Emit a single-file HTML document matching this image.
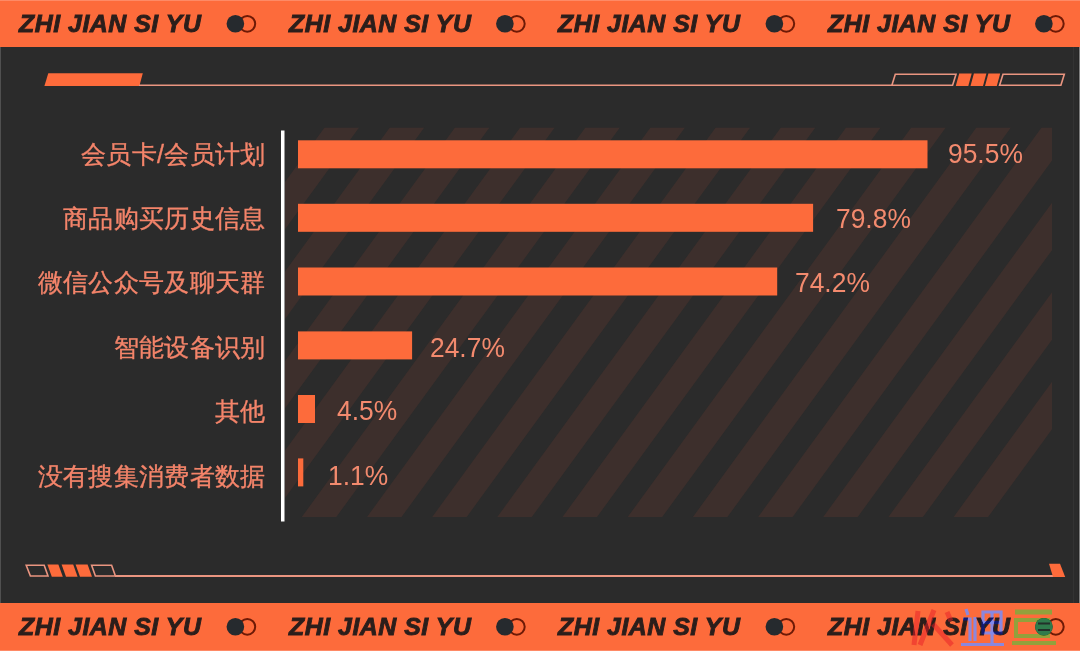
<!DOCTYPE html>
<html><head><meta charset="utf-8">
<style>
html,body{margin:0;padding:0;}
body{width:1080px;height:651px;overflow:hidden;background:#2b2b2b;position:relative;font-family:"Liberation Sans",sans-serif;}
.band{position:absolute;left:0;width:1080px;height:48px;background:#fd6b3b;overflow:hidden;}
.ht{position:absolute;font:italic bold 24px "Liberation Sans",sans-serif;color:#2b1e1b;letter-spacing:0.52px;transform:scaleX(1.035);transform-origin:0 0;-webkit-text-stroke:0.9px #2b1e1b;white-space:nowrap;line-height:1;}
.bl{position:absolute;left:0;width:1080px;height:1px;background:#fe8a66;}
.lbl{position:absolute;right:814.2px;font-size:25px;letter-spacing:0.35px;color:#f4846a;-webkit-text-stroke:0.35px #f4846a;white-space:nowrap;line-height:1;}
.pct{position:absolute;font-size:27.5px;color:#f38a6e;white-space:nowrap;line-height:1;transform:scaleX(0.96);transform-origin:0 0;}
svg{position:absolute;left:0;top:0;}
</style></head><body>
<svg width="1080" height="651" viewBox="0 0 1080 651">
  <defs>
    <clipPath id="cp"><rect x="285" y="127.5" width="767" height="389.5"/></clipPath>
  </defs>
  <path clip-path="url(#cp)" fill="#3d2f2c" d="M41.1 517H75.6L359.1 127.5H324.6ZM106.3 517H140.8L424.3 127.5H389.8ZM171.4 517H205.9L489.5 127.5H455.0ZM236.6 517H271.1L554.7 127.5H520.2ZM301.8 517H336.3L619.9 127.5H585.4ZM367.0 517H401.5L685.0 127.5H650.5ZM432.2 517H466.7L750.2 127.5H715.7ZM497.3 517H531.8L815.4 127.5H780.9ZM562.5 517H597.0L880.6 127.5H846.1ZM627.7 517H662.2L945.8 127.5H911.3ZM692.9 517H727.4L1010.9 127.5H976.4ZM758.1 517H792.6L1076.1 127.5H1041.6ZM823.2 517H857.7L1141.3 127.5H1106.8ZM888.4 517H922.9L1206.5 127.5H1172.0ZM953.6 517H988.1L1271.7 127.5H1237.2Z"/>
  <!-- axis -->
  <rect x="281" y="130.5" width="3.5" height="391" fill="#ffffff"/>
  <!-- bars -->
  <rect x="298" y="140.3" width="629.5" height="28" fill="#fd6b3b"/>
  <rect x="298" y="203.8" width="515.1" height="28" fill="#fd6b3b"/>
  <rect x="298" y="267.5" width="479.2" height="28" fill="#fd6b3b"/>
  <rect x="298" y="331.4" width="114.1" height="28" fill="#fd6b3b"/>
  <rect x="298" y="395" width="17" height="28" fill="#fd6b3b"/>
  <rect x="298" y="458.4" width="5.3" height="28" fill="#fd6b3b"/>
  <!-- top decoration -->
  <polygon points="48.3,73.3 142.8,73.3 139.4,86.1 44.4,86.1" fill="#fd6b3b"/>
  <line x1="139" y1="85.3" x2="892" y2="85.3" stroke="#ea9580" stroke-width="1.6"/>
  <polygon points="895.3,74.3 956,74.3 952.6,85.3 891.9,85.3" fill="none" stroke="#ea9580" stroke-width="1.6"/>
  <polygon points="959.2,73.4 971.7,73.4 968.3,86.1 955.8,86.1" fill="#fd6b3b"/>
  <polygon points="973.9,73.4 986.4,73.4 983,86.1 970.5,86.1" fill="#fd6b3b"/>
  <polygon points="988.4,73.4 1000.2,73.4 996.8,86.1 985,86.1" fill="#fd6b3b"/>
  <polygon points="1003,74.3 1064.3,74.3 1060.9,85.3 999.6,85.3" fill="none" stroke="#ea9580" stroke-width="1.6"/>
  <!-- bottom decoration -->
  <polygon points="26.2,565.2 44.2,565.2 48,576 30.4,576" fill="none" stroke="#ea9580" stroke-width="1.6"/>
  <polygon points="47.4,564.4 58.4,564.4 62.8,576.8 51.8,576.8" fill="#fd6b3b"/>
  <polygon points="61.6,564.4 73.2,564.4 77.6,576.8 66,576.8" fill="#fd6b3b"/>
  <polygon points="75.6,564.4 87.6,564.4 92,576.8 80,576.8" fill="#fd6b3b"/>
  <polygon points="91.6,565.2 111.6,565.2 115.4,576 95.4,576" fill="none" stroke="#ea9580" stroke-width="1.6"/>
  <line x1="115" y1="576" x2="1053" y2="576" stroke="#ea9580" stroke-width="2"/>
  <polygon points="1049,563.8 1060,563.8 1065.2,577 1053,577" fill="#fd6b3b"/>
</svg>

<div class="band" style="top:0;height:47px">
  <div class="bl" style="top:0"></div>
  <div class="ht" style="left:19px;top:11.5px">ZHI JIAN SI YU</div>
  <div class="ht" style="left:288.5px;top:11.5px">ZHI JIAN SI YU</div>
  <div class="ht" style="left:558px;top:11.5px">ZHI JIAN SI YU</div>
  <div class="ht" style="left:827.5px;top:11.5px">ZHI JIAN SI YU</div>
  <svg width="1080" height="47">
    <g id="cc">
      <circle cx="247.3" cy="23.8" r="7.9" fill="none" stroke="#6e1a06" stroke-width="2"/>
      <circle cx="235.4" cy="23.8" r="8.8" fill="#262a2e"/>
    </g>
    <use href="#cc" x="269.5"/>
    <use href="#cc" x="539"/>
    <use href="#cc" x="808.5"/>
  </svg>
</div>

<div class="band" style="top:603px">
  <div class="ht" style="left:19px;top:11.5px">ZHI JIAN SI YU</div>
  <div class="ht" style="left:288.5px;top:11.5px">ZHI JIAN SI YU</div>
  <div class="ht" style="left:558px;top:11.5px">ZHI JIAN SI YU</div>
  <div class="ht" style="left:827.5px;top:11.5px">ZHI JIAN SI YU</div>
  <svg width="1080" height="48">
    <g id="cc2">
      <circle cx="247.3" cy="23.8" r="7.9" fill="none" stroke="#6e1a06" stroke-width="2"/>
      <circle cx="235.4" cy="23.8" r="8.8" fill="#262a2e"/>
    </g>
    <use href="#cc2" x="269.5"/>
    <use href="#cc2" x="539"/>
    <use href="#cc2" x="808.5"/>
  </svg>
</div>

<div class="lbl" style="top:141.5px">会员卡/会员计划</div>
<div class="lbl" style="top:205.9px">商品购买历史信息</div>
<div class="lbl" style="top:270.3px">微信公众号及聊天群</div>
<div class="lbl" style="top:334.7px">智能设备识别</div>
<div class="lbl" style="top:399.1px">其他</div>
<div class="lbl" style="top:463.5px">没有搜集消费者数据</div>

<div class="pct" style="left:947.5px;top:140.3px">95.5%</div>
<div class="pct" style="left:835.5px;top:205.1px">79.8%</div>
<div class="pct" style="left:795.3px;top:268.8px">74.2%</div>
<div class="pct" style="left:429.5px;top:333.8px">24.7%</div>
<div class="pct" style="left:337.3px;top:397.3px">4.5%</div>
<div class="pct" style="left:327.5px;top:462.3px">1.1%</div>

<svg width="1080" height="651" style="position:absolute;left:0;top:0;mix-blend-mode:color">
  <g fill="none" stroke-linecap="butt">
    
    <g stroke="#5a64c8" stroke-opacity="0.9" stroke-width="3.2">
      <path d="M966 609 L968 615"/>
      <path d="M963 619 H970 V641"/>
      <path d="M975 617 V641"/>
      <path d="M983 612 H1001 V633 H983 Z"/>
      <path d="M983 622.5 H1001"/>
      <path d="M992 612 V644"/>
      <path d="M961 644.5 H1004"/>
    </g>
    <g stroke="#7a9a30" stroke-opacity="0.9">
      <path d="M1015 612 H1052" stroke-width="5"/>
      <path d="M1016 620 H1048 V636 H1016 Z" stroke-width="4"/>
      <path d="M1012 643 H1056" stroke-width="4"/>
    </g>
    
  </g>
</svg>
<svg width="1080" height="651" style="position:absolute;left:0;top:0">
  <g stroke="#e81e28" stroke-opacity="0.5" fill="none" stroke-width="5">
      <path d="M918 611 L914 645"/>
      <path d="M934 610 L920 645"/>
      <path d="M933 624 L952 645"/>
      <path d="M947 612 L951 621"/>
    </g>
  <circle cx="1043.9" cy="626.8" r="8.8" fill="#2f7b4c"/>
  <path d="M1038 623.5 H1050 M1038 630 H1050" stroke="#23302a" stroke-width="2.2"/>
</svg>
<div style="position:absolute;left:0;top:47px;width:1px;height:556px;background:#505050"></div>
<div style="position:absolute;left:1073px;top:47px;width:1px;height:556px;background:#333333"></div>
<div style="position:absolute;left:1078px;top:47px;width:1px;height:556px;background:#262626"></div><div style="position:absolute;left:1079px;top:47px;width:1px;height:556px;background:#7e7e7e"></div>
<div style="position:absolute;left:0;top:650px;width:1080px;height:1px;background:#fe8a66"></div>
</body></html>
